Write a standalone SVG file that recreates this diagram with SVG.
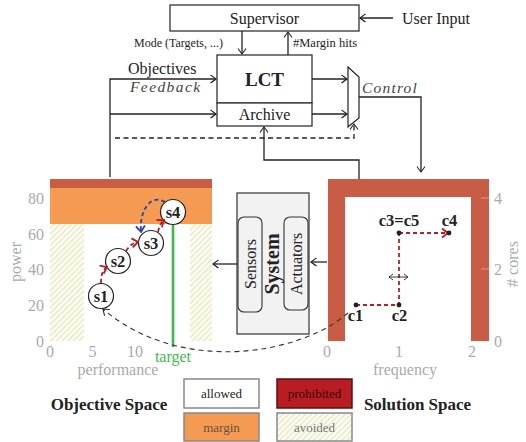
<svg xmlns="http://www.w3.org/2000/svg" width="526" height="442" viewBox="0 0 526 442">
  <style>
    text { font-family: "Liberation Serif", "Times New Roman", serif; fill: #222; }
    .box { fill: #fff; stroke: #333; stroke-width: 1.3; }
    .wire { fill: none; stroke: #222; stroke-width: 1.3; }
    .dash { fill: none; stroke: #222; stroke-width: 1.3; stroke-dasharray: 5 3.5; }
    .tick text { fill: #aaa; font-size: 16px; }
    text.axis { fill: #aaa; font-size: 16px; }
    .state { fill: #fff; stroke: #222; stroke-width: 1.2; }
    text.slabel { font-size: 16.5px; font-weight: bold; text-anchor: middle; }
    .rdash { fill: none; stroke: #b81d24; stroke-width: 1.8; stroke-dasharray: 4 3; }
    .bdash { fill: none; stroke: #2a3fa8; stroke-width: 1.8; stroke-dasharray: 4 3; }
    .leg { stroke: #888; stroke-width: 1.5; }
    text.legt { font-size: 13px; text-anchor: middle; }
    .band { fill: #c85c45; }
  </style>
  <defs>
    <marker id="ah" viewBox="-7 -5 8 10" refX="0" refY="0" markerWidth="8" markerHeight="10" orient="auto" markerUnits="userSpaceOnUse">
      <path d="M-5.5,-4 Q-1.2,-1 0,0 Q-1.2,1 -5.5,4" fill="none" stroke="#222" stroke-width="1.1"/>
    </marker>
    <marker id="ahs" viewBox="-7 -5 8 10" refX="0" refY="0" markerWidth="8" markerHeight="10" orient="auto-start-reverse" markerUnits="userSpaceOnUse">
      <path d="M-4,-3 Q-1,-0.8 0,0 Q-1,0.8 -4,3" fill="none" stroke="#222" stroke-width="0.9"/>
    </marker>
    <marker id="ahr" viewBox="-8 -6 9 12" refX="0" refY="0" markerWidth="9" markerHeight="12" orient="auto" markerUnits="userSpaceOnUse">
      <path d="M-6,-4.5 Q-1.5,-1 0,0 Q-1.5,1 -6,4.5" fill="none" stroke="#b81d24" stroke-width="1.8"/>
    </marker>
    <marker id="ahb" viewBox="-8 -6 9 12" refX="0" refY="0" markerWidth="9" markerHeight="12" orient="auto" markerUnits="userSpaceOnUse">
      <path d="M-6,-4.5 Q-1.5,-1 0,0 Q-1.5,1 -6,4.5" fill="none" stroke="#2a3fa8" stroke-width="1.8"/>
    </marker>
    <pattern id="hatch" patternUnits="userSpaceOnUse" width="4" height="4" patternTransform="rotate(45)">
      <rect width="4" height="4" fill="#fff"/>
      <line x1="1" y1="0" x2="1" y2="4" stroke="#dcdc94" stroke-width="1"/>
    </pattern>
  </defs>

  <!-- Supervisor -->
  <g id="supervisor">
    <rect class="box" x="170" y="5" width="189" height="26"/>
    <text x="264.5" y="23.5" font-size="16" text-anchor="middle">Supervisor</text>
  </g>
  <text x="402" y="23.5" font-size="16">User Input</text>

  <!-- LCT with archive -->
  <g id="lct">
    <rect class="box" x="217" y="55" width="95" height="48"/>
    <text x="264.5" y="86" font-size="19" font-weight="bold" text-anchor="middle">LCT</text>
  </g>
  <g id="archive">
    <rect class="box" x="217" y="103" width="95" height="23"/>
    <text x="264.5" y="120" font-size="16" text-anchor="middle">Archive</text>
  </g>

  <!-- multiplexer -->
  <g id="mux">
    <polygon points="348,67 359,77 359,118 348,127" fill="#fff" stroke="#222" stroke-width="1.2"/>
  </g>

  <!-- System -->
  <g id="system">
    <rect x="237" y="193" width="72" height="141" fill="#f2f2f2" stroke="#333" stroke-width="1.2"/>
    <rect x="238" y="217" width="24" height="95" rx="6" fill="#f2f2f2" stroke="#333" stroke-width="1.1"/>
    <rect x="284" y="217" width="24" height="93" rx="6" fill="#f2f2f2" stroke="#333" stroke-width="1.1"/>
    <text transform="translate(255.5,264) rotate(-90)" font-size="16" text-anchor="middle">Sensors</text>
    <text transform="translate(279,264) rotate(-90)" font-size="20" font-weight="bold" text-anchor="middle">System</text>
    <text transform="translate(302,264) rotate(-90)" font-size="16" text-anchor="middle">Actuators</text>
  </g>

  <!-- Objective space plot -->
  <g id="objective-space">
    <rect x="50" y="179" width="162" height="162" fill="#fff"/>
    <rect class="band" x="50" y="179" width="162" height="9"/>
    <rect x="50" y="188" width="162" height="36" fill="#f59a52"/>
    <rect x="50" y="224" width="34" height="117" fill="url(#hatch)"/>
    <rect x="190" y="224" width="22" height="117" fill="url(#hatch)"/>
    <line x1="173" y1="212" x2="173" y2="347" stroke="#3dbb4a" stroke-width="2.6"/>
    <text x="173" y="362" font-size="16" text-anchor="middle" style="fill:#3dbb4a">target</text>
    <g class="tick" text-anchor="end">
      <text x="44" y="347">0</text>
      <text x="44" y="311">20</text>
      <text x="44" y="275">40</text>
      <text x="44" y="240">60</text>
      <text x="44" y="204">80</text>
    </g>
    <g class="tick" text-anchor="middle">
      <text x="50" y="357">0</text>
      <text x="92.5" y="357">5</text>
      <text x="135" y="357">10</text>
    </g>
    <text class="axis" x="118" y="375" text-anchor="middle">performance</text>
    <text class="axis" transform="translate(21,262) rotate(-90)" text-anchor="middle">power</text>
  </g>

  <!-- states in objective space -->
  <g id="s1"><circle class="state" cx="101" cy="296" r="12.5"/><text class="slabel" x="101" y="301.5">s1</text></g>
  <g id="s2"><circle class="state" cx="118" cy="261" r="12.5"/><text class="slabel" x="118" y="266.5">s2</text></g>
  <g id="s3"><circle class="state" cx="151" cy="243" r="12.5"/><text class="slabel" x="151" y="248.5">s3</text></g>
  <g id="s4"><circle class="state" cx="173" cy="212" r="12.5"/><text class="slabel" x="173" y="217.5">s4</text></g>

  <!-- Solution space plot -->
  <g id="solution-space">
    <path class="band" d="M328,179 H489 V341 H471 V197 H345 V341 H328 Z"/>
    <g stroke="#e39a88" stroke-width="1">
      <line x1="481" y1="198" x2="489" y2="198"/>
      <line x1="481" y1="269" x2="489" y2="269"/>
    </g>
    <g class="tick" text-anchor="middle">
      <text x="327" y="357">0</text>
      <text x="399" y="357">1</text>
      <text x="472" y="357">2</text>
    </g>
    <g class="tick">
      <text x="494" y="204">4</text>
      <text x="494" y="275">2</text>
      <text x="494" y="347">0</text>
    </g>
    <text class="axis" x="405" y="375" text-anchor="middle">frequency</text>
    <text class="axis" transform="translate(518,264) rotate(-90)" text-anchor="middle"># cores</text>
  </g>

  <!-- configurations in solution space -->
  <g id="configs">
    <path class="rdash" d="M356,305 H399 V233"/>
    <path class="rdash" d="M399,233 H448" marker-end="url(#ahr)"/>
    <line x1="389" y1="277" x2="408" y2="277" stroke="#222" stroke-width="0.9" marker-start="url(#ahs)" marker-end="url(#ahs)"/>
    <g fill="#222">
      <circle cx="356" cy="305" r="2.4"/>
      <circle cx="399" cy="305" r="2.4"/>
      <circle cx="399" cy="233" r="2.4"/>
      <circle cx="449" cy="233" r="2.4"/>
    </g>
    <text class="slabel" x="355.5" y="321">c1</text>
    <text class="slabel" x="399.5" y="321">c2</text>
    <text class="slabel" x="399" y="226">c3=c5</text>
    <text class="slabel" x="449.5" y="226">c4</text>
  </g>

  <!-- Connectors -->
  <g id="connectors">
    <path class="wire" d="M393,18 H360" marker-end="url(#ah)"/>
    <path class="wire" d="M242,31 V54" marker-end="url(#ah)"/>
    <path class="wire" d="M288,55 V32" marker-end="url(#ah)"/>
    <path class="wire" d="M110,177 V79 H216" marker-end="url(#ah)"/>
    <path class="wire" d="M110,114 H216" marker-end="url(#ah)"/>
    <path class="wire" d="M312,79 H347" marker-end="url(#ah)"/>
    <path class="wire" d="M312,114 H347" marker-end="url(#ah)"/>
    <path class="wire" d="M359,97 H421 V172" marker-end="url(#ah)"/>
    <path class="dash" d="M115,138 H354 V124" marker-end="url(#ah)"/>
    <path class="wire" d="M359,179 V160 H264 V127" marker-end="url(#ah)"/>
    <path class="wire" d="M237,264 H213" marker-end="url(#ah)"/>
    <path class="wire" d="M327,262 H311" marker-end="url(#ah)"/>
    <path d="M348,313 C300,355 180,375 103,309" fill="none" stroke="#333" stroke-width="1.1" stroke-dasharray="5 4" marker-end="url(#ah)"/>
    <path class="rdash" d="M101,283 Q101,270 107,267" marker-end="url(#ahr)"/>
    <path class="rdash" d="M126,251 Q131,243 138,242" marker-end="url(#ahr)"/>
    <path class="rdash" d="M158,232 Q160,223 164,220" marker-end="url(#ahr)"/>
    <path class="bdash" d="M165,202 C150,193 139,212 141,232" marker-end="url(#ahb)"/>
  </g>

  <!-- labels on connectors -->
  <text x="134" y="47" font-size="12">Mode (Targets, ...)</text>
  <text x="293" y="47" font-size="12.5">#Margin hits</text>
  <text x="128" y="74" font-size="16">Objectives</text>
  <text x="130" y="92" font-size="15.5" font-style="italic" letter-spacing="1.4" style="fill:#444">Feedback</text>
  <text x="362" y="93" font-size="15.5" font-style="italic" letter-spacing="1.2" style="fill:#444">Control</text>

  <!-- Legend -->
  <g id="legend">
    <rect class="leg" x="184" y="379" width="75" height="29" fill="#fff"/>
    <text class="legt" x="221.5" y="398">allowed</text>
    <rect class="leg" x="184" y="413" width="75" height="28" fill="#f59a52"/>
    <text class="legt" x="221.5" y="432" style="fill:#6a5040">margin</text>
    <rect x="277" y="379" width="75" height="29" fill="#b81d24" stroke="#5a1010" stroke-width="1.5"/>
    <text class="legt" x="314.5" y="398" style="fill:#3a0808">prohibited</text>
    <rect class="leg" x="277" y="413" width="75" height="28" fill="url(#hatch)"/>
    <text class="legt" x="314.5" y="432" style="fill:#777">avoided</text>
    <text x="109" y="410" font-size="17" font-weight="bold" text-anchor="middle">Objective Space</text>
    <text x="417.5" y="410" font-size="17" font-weight="bold" text-anchor="middle">Solution Space</text>
  </g>
</svg>
